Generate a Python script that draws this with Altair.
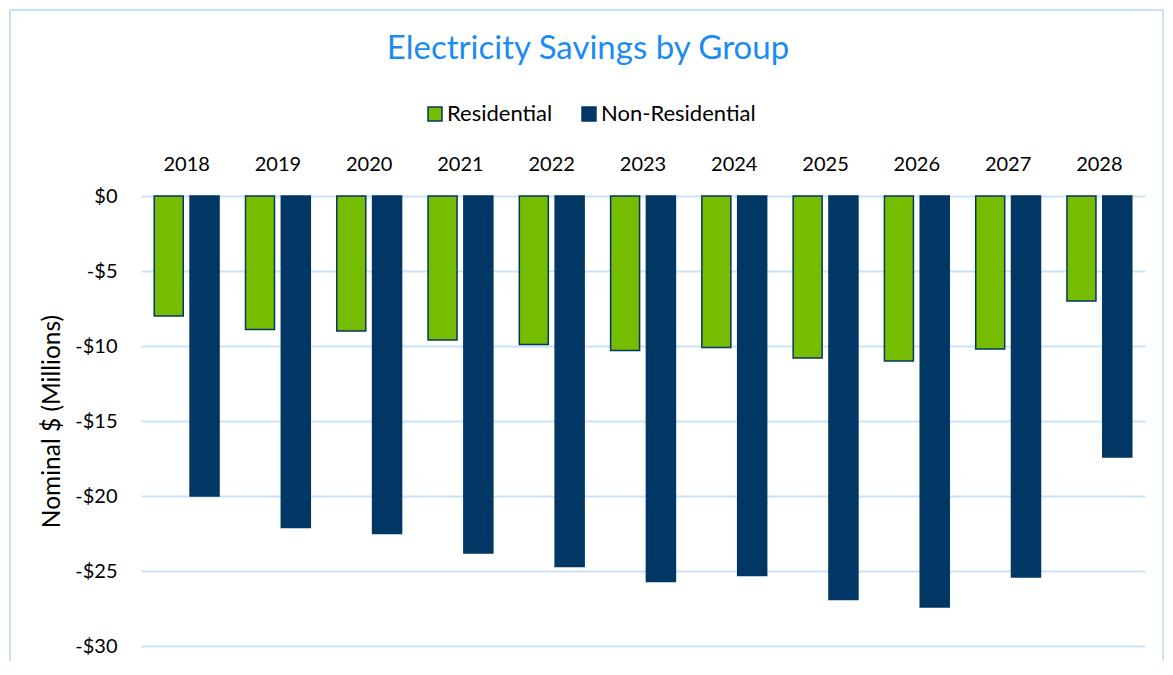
import altair as alt
import pandas as pd

years = ["2018", "2019", "2020", "2021", "2022", "2023", "2024", "2025", "2026", "2027", "2028"]
residential = [-8.0, -8.9, -9.0, -9.6, -9.9, -10.3, -10.1, -10.8, -11.0, -10.2, -7.0]
non_residential = [-20.0, -22.1, -22.5, -23.8, -24.7, -25.7, -25.3, -26.9, -27.4, -25.4, -17.4]
groups = ["Residential", "Non-Residential"]
y_ticks = [0, -5, -10, -15, -20, -25, -30]

rows = []
for i, yr in enumerate(years):
    rows.append({"year": yr, "group": groups[0], "value": residential[i]})
    rows.append({"year": yr, "group": groups[1], "value": non_residential[i]})
df = pd.DataFrame(rows)

GREEN = "#76BC00"
NAVY = "#003764"
GRID = "#C9E2F7"
FONT = "Lato"

bars = alt.Chart(df).mark_bar(stroke=NAVY, strokeWidth=1.5).encode(
    x=alt.X(
        "year:N",
        sort=years,
        title=None,
        scale=alt.Scale(paddingInner=0.29, paddingOuter=0.145),
        axis=alt.Axis(orient="top", domain=False, ticks=False, labelAngle=0,
                      labelFontSize=20, labelFont=FONT, labelColor="#000000",
                      labelPadding=22, grid=False),
    ),
    xOffset=alt.XOffset("group:N", sort=groups, scale=alt.Scale(paddingInner=0.19)),
    y=alt.Y(
        "value:Q",
        title="Nominal $ (Millions)",
        scale=alt.Scale(domain=[-30, 0], nice=False),
        axis=alt.Axis(values=y_ticks, domain=False, ticks=False,
                      labelExpr="datum.value == 0 ? '$0' : '-$' + abs(datum.value)",
                      labelFontSize=20, labelFont=FONT, labelColor="#000000",
                      labelPadding=24, gridColor=GRID, gridWidth=2,
                      titleFontSize=24.5, titleFont=FONT, titleFontWeight="normal",
                      titleColor="#000000", titlePadding=10),
    ),
    color=alt.Color(
        "group:N",
        sort=groups,
        scale=alt.Scale(domain=groups, range=[GREEN, NAVY]),
        legend=alt.Legend(title=None, orient="none", direction="horizontal",
                          legendX=283, legendY=-93, padding=0,
                          symbolType="square", symbolSize=196,
                          symbolStrokeColor=NAVY, symbolStrokeWidth=1.5,
                          labelFontSize=22, labelFont=FONT, labelColor="#000000",
                          labelOffset=1, columnPadding=25),
    ),
)

frame = alt.Chart(df).mark_rect(fill=None, stroke="#C9E2F7", strokeWidth=2).encode(
    x=alt.value(-131), x2=alt.value(1022), y=alt.value(-186), y2=alt.value(468)
)

chart = alt.layer(frame, bars).properties(
    width=1004,
    height=450,
    title=alt.TitleParams(
        "Electricity Savings by Group",
        fontSize=33, font=FONT, fontWeight="normal", color="#1C8CF0",
        anchor="middle", offset=-57, dx=-55,
    ),
    padding={"left": 133, "top": 188, "right": 20, "bottom": 15},
    autosize=alt.AutoSizeParams(type="none"),
).configure_view(stroke=None)

chart.save("out.html", embed_options={"renderer": "svg", "actions": False})
